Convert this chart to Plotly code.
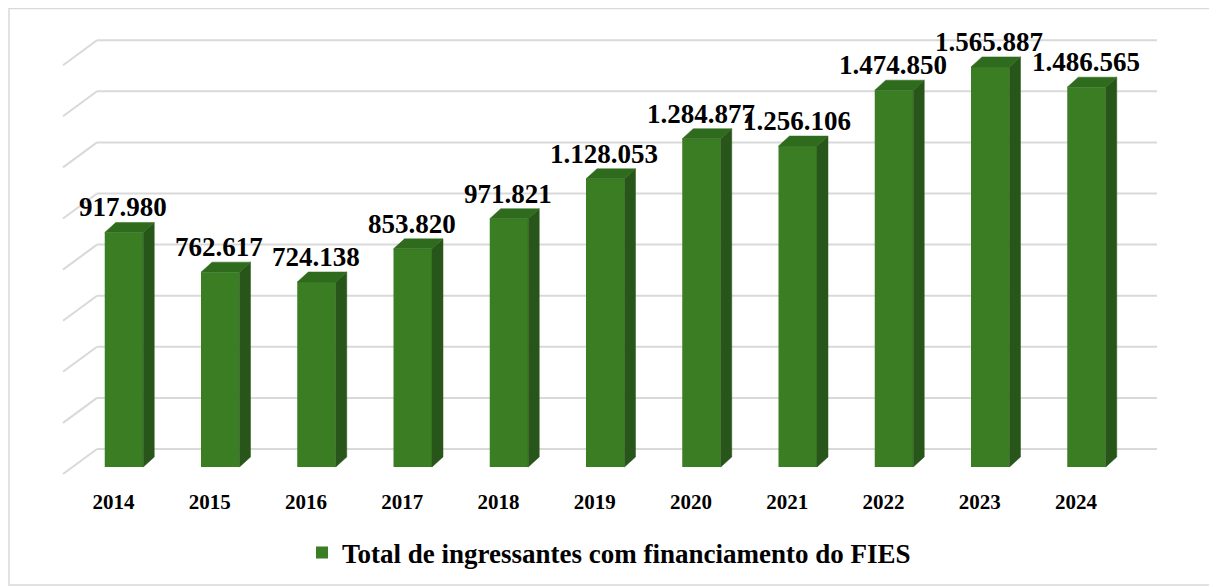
import plotly.graph_objects as go

years = ["2014", "2015", "2016", "2017", "2018", "2019", "2020", "2021", "2022", "2023", "2024"]
ingressantes = [917980, 762617, 724138, 853820, 971821, 1128053, 1284877, 1256106, 1474850, 1565887, 1486565]
grid_values = [0, 200000, 400000, 600000, 800000, 1000000, 1200000, 1400000, 1600000]
series_name = "Total de ingressantes com financiamento do FIES"

# ---- geometry (page pixels, page has an 8px body margin) ----
OFF = 8
W, H = 1217, 587
L = 63 - OFF                 # left edge of plot area (figure px)
R = W - (1157 - OFF)         # right margin
T = 20 - OFF
plot_bottom = 480 - OFF
B = H - plot_bottom
plot_w = W - L - R
plot_h = plot_bottom - T
zero_px = 467 - OFF          # row of value 0 at the bars' front face
px_per_unit_y = 51.1 / 200000
x_step = 96.25               # pixels per category
first_px = 124 - OFF         # centre of the first bar's front face
x_lo = -(first_px - L) / x_step
x_hi = (L + plot_w - first_px) / x_step
y_lo = -(plot_bottom - zero_px) / px_per_unit_y
y_hi = (zero_px - T) / px_per_unit_y

bar_w = 0.4
dx = 11 / x_step
dy = 10 / px_per_unit_y
back_off = 18 / px_per_unit_y
diag_dy = 25 / px_per_unit_y
diag_dx_paper = 34 / plot_w

FRONT = "#3b7d23"
SIDE = "#28561a"
TOP = "#2f6b1d"
GRID = "#d9d9d9"
FONT = "Liberation Serif"

xs = list(range(len(years)))

fig = go.Figure()

# side faces
sx, sy = [], []
for i, v in zip(xs, ingressantes):
    r = i + bar_w / 2
    sx += [r, r + dx, r + dx, r, r, None]
    sy += [0, dy, v + dy, v, 0, None]
fig.add_trace(go.Scatter(x=sx, y=sy, fill="toself", fillcolor=SIDE, mode="lines",
                         line=dict(width=0.5, color=SIDE), showlegend=False, hoverinfo="skip"))
# top faces
tx, ty = [], []
for i, v in zip(xs, ingressantes):
    l, r = i - bar_w / 2, i + bar_w / 2
    tx += [l, l + dx, r + dx, r, l, None]
    ty += [v, v + dy, v + dy, v, v, None]
fig.add_trace(go.Scatter(x=tx, y=ty, fill="toself", fillcolor=TOP, mode="lines",
                         line=dict(width=0.5, color=TOP), showlegend=False, hoverinfo="skip"))
# front faces
fig.add_trace(go.Bar(x=xs, y=ingressantes, width=bar_w, marker=dict(color=FRONT, line=dict(width=0)),
                     name="<b>" + series_name + "</b>", showlegend=True, hoverinfo="y"))

# back-wall gridlines with perspective diagonals
for g in grid_values:
    yb = g + back_off
    fig.add_shape(type="line", xref="paper", yref="y", x0=diag_dx_paper, x1=1, y0=yb, y1=yb,
                  line=dict(color=GRID, width=2), layer="below")
    fig.add_shape(type="line", xref="paper", yref="y", x0=0, x1=diag_dx_paper, y0=yb - diag_dy, y1=yb,
                  line=dict(color=GRID, width=2), layer="below")

# outer frame
fig.add_shape(type="rect", xref="paper", yref="paper",
              x0=(1 - L) / plot_w, x1=(1208 - L) / plot_w,
              y0=(plot_bottom - 577) / plot_h, y1=(plot_bottom - 0.5) / plot_h,
              line=dict(color=GRID, width=1.5), layer="below")

# data labels
for i, v in zip(xs, ingressantes):
    fig.add_annotation(x=i, y=v, text="<b>" + f"{v:,}".replace(",", ".") + "</b>",
                       showarrow=False, yshift=25, xshift=-1, yanchor="middle",
                       font=dict(family=FONT, size=27, color="black"))

fig.update_layout(
    width=W, height=H,
    margin=dict(l=L, r=R, t=T, b=B, autoexpand=False),
    paper_bgcolor="white", plot_bgcolor="white",
    xaxis=dict(range=[x_lo, x_hi], tickvals=[i - 0.11 for i in xs],
               ticktext=["<b>" + y + "</b>" for y in years],
               tickfont=dict(family=FONT, size=21, color="black"),
               ticklabelstandoff=7,
               showgrid=False, zeroline=False, showline=False, ticks="", automargin=False),
    yaxis=dict(range=[y_lo, y_hi], showgrid=False, zeroline=False, showline=False,
               showticklabels=False, ticks="", automargin=False),
    legend=dict(orientation="h", x=(302 - OFF - L) / plot_w, xanchor="left",
                y=(plot_bottom - (553 - OFF)) / plot_h, yanchor="middle",
                font=dict(family=FONT, size=27, color="black")),
    showlegend=True,
)

fig.write_html("out.html")
